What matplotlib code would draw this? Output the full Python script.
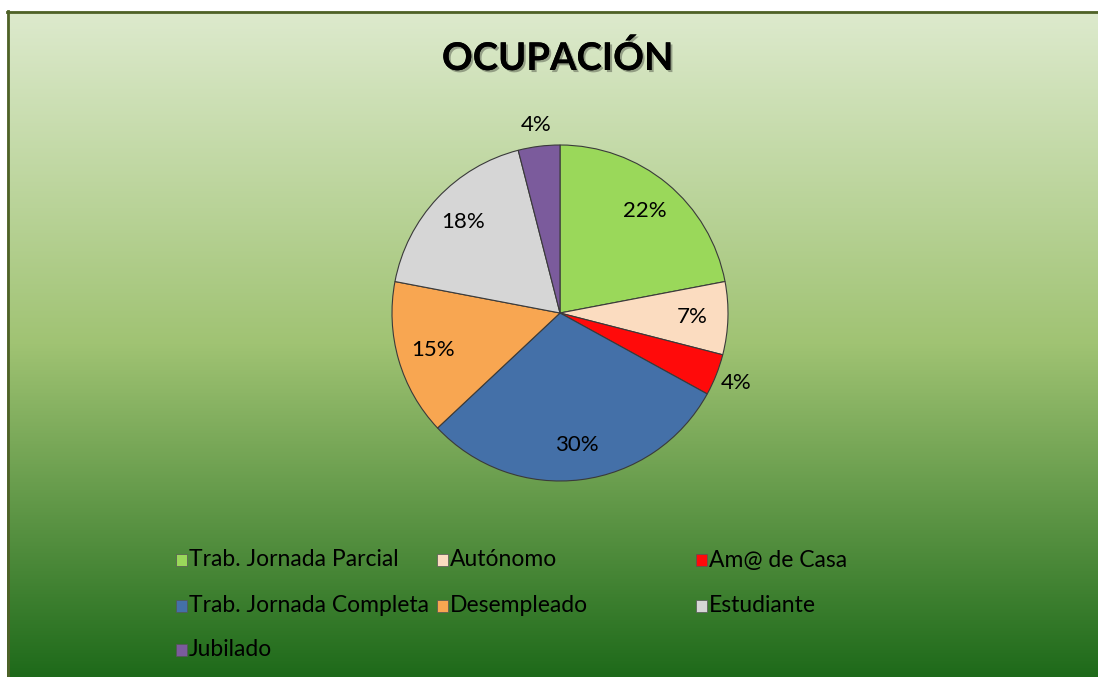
import matplotlib.pyplot as plt
import matplotlib.patheffects as pe
from matplotlib.patches import Rectangle
import numpy as np

plt.rcParams['font.family'] = ['Lato', 'DejaVu Sans']

categories = ['Trab. Jornada Parcial', 'Autónomo', 'Am@ de Casa',
              'Trab. Jornada Completa', 'Desempleado', 'Estudiante', 'Jubilado']
values = [22, 7, 4, 30, 15, 18, 4]
colors = ['#9AD85A', '#FBDCC0', '#FF0A0A', '#4470A8', '#F8A651', '#D6D6D6', '#7B5B9C']
title = 'OCUPACIÓN'

W, H = 1098, 677
fig = plt.figure(figsize=(W / 100, H / 100), dpi=100)

# background gradient panel
bg = fig.add_axes([7 / W, 0, 1 - 7 / W, 1 - 11 / H])
top = np.array([221, 234, 205]) / 255
mid = np.array([160, 195, 115]) / 255
bot = np.array([30, 106, 26]) / 255
t = np.linspace(0, 1, 300)[:, None]
grad = np.where(t < 0.5, top + (mid - top) * (t / 0.5), mid + (bot - mid) * ((t - 0.5) / 0.5))
bg.imshow(grad[:, None, :], aspect='auto', extent=[0, 1, 0, 1], origin='upper')
bg.set_xlim(0, 1)
bg.set_ylim(0, 1)
bg.axis('off')
fig.add_artist(plt.Line2D([7.5 / W, 7.5 / W], [0, 1 - 11 / H], color='#4F6228', lw=2))
fig.add_artist(plt.Line2D([7 / W, 1], [1 - 11.5 / H, 1 - 11.5 / H], color='#4F6228', lw=2))

# pie
cx, cy, R, half = 560, 313, 168, 200
ax = fig.add_axes([(cx - half) / W, (H - cy - half) / H, 2 * half / W, 2 * half / H])
wedges, _ = ax.pie(values, colors=colors, startangle=90, counterclock=False,
                   wedgeprops=dict(edgecolor='#3A3A3A', linewidth=0.8))
lim = half / R
ax.set_xlim(-lim, lim)
ax.set_ylim(-lim, lim)
ax.set_aspect('equal')
ax.axis('off')

total = sum(values)
for w, v in zip(wedges, values):
    ang = np.deg2rad((w.theta1 + w.theta2) / 2)
    pct = v / total * 100
    r = 1.13 if pct < 5 else 0.79
    ax.text(r * np.cos(ang), r * np.sin(ang), f'{pct:.0f}%', ha='center', va='center',
            fontsize=16, color='black')

fig.text(558 / W, 1 - 58 / H, title, ha='center', va='center', fontsize=27.5,
         fontweight='bold', color='black',
         path_effects=[pe.withSimplePatchShadow(offset=(1.5, -1.5), alpha=0.3), pe.Normal()])

# legend
col_x = [176, 437, 696]
row_y = [560, 606, 650]
for i, (lab, c) in enumerate(zip(categories, colors)):
    x = col_x[i % 3]
    y = row_y[i // 3]
    fig.patches.append(Rectangle((x / W, (H - y - 6) / H), 11 / W, 12 / H,
                                 transform=fig.transFigure, facecolor=c,
                                 edgecolor='#555555', linewidth=0.5))
    fig.text((x + 13) / W, 1 - y / H, lab, ha='left', va='center', fontsize=16.5,
             color='black')

fig.savefig('out.png', dpi=100)
